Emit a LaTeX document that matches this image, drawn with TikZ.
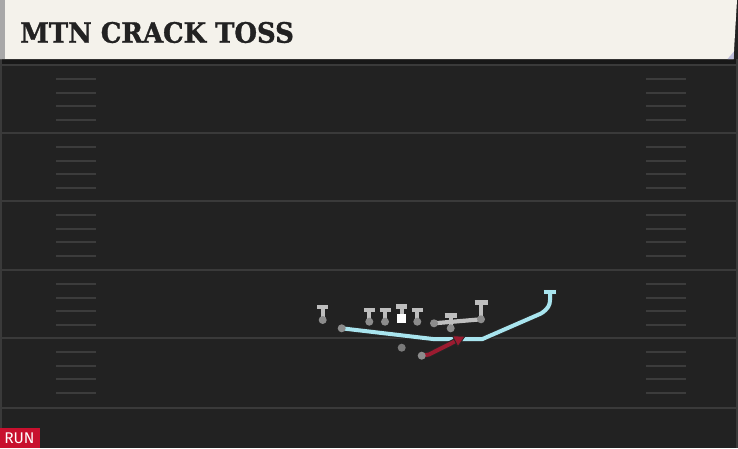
\documentclass[tikz,border=0pt]{standalone}
\usepackage{fontspec}
\usetikzlibrary{arrows.meta,calc}
\newfontfamily\titlefont[FakeBold=1.2]{DejaVu Serif Bold}
\newfontfamily\runfont{Fira Sans}
\definecolor{fieldbg}{HTML}{222222}
\definecolor{fieldline}{HTML}{3A3A3A}
\definecolor{hashc}{HTML}{3C3C3C}
\definecolor{cream}{HTML}{F4F2EB}
\definecolor{stripe}{HTML}{A8A8A8}
\definecolor{titleink}{HTML}{222222}
\definecolor{runred}{HTML}{C8102E}
\definecolor{routered}{HTML}{9B1B30}
\definecolor{routecyan}{HTML}{A9E5EF}
\definecolor{blockgray}{HTML}{BEBEBE}
\definecolor{dotgray}{HTML}{8C8C8C}
\definecolor{qbgray}{HTML}{7A7A7A}
\tikzset{
  fieldrule/.style={draw=fieldline,line width=2pt},
  hashmark/.style={draw=hashc,line width=2pt},
  player/.style={circle,fill=dotgray,inner sep=0pt,minimum size=8pt},
  centerbox/.style={rectangle,fill=white,inner sep=0pt,minimum size=9.4pt},
  stem/.style={draw=blockgray,line width=4.2pt},
  blockbar/.style={draw=blockgray,line width=4.6pt},
  outline/.style={draw=black!85,line width=6pt,line join=round},
  cyanroute/.style={draw=routecyan,line width=4pt,line join=round},
  redroute/.style={draw=routered,line width=4pt,line join=round},
}
\begin{document}
\begin{tikzpicture}[x=1pt,y=-1pt]
\useasboundingbox (0,0) rectangle (738,448);
% field
\fill[fieldbg] (0,0) rectangle (738,448);
\fill[black!30!fieldbg] (0,59) rectangle (738,64);
\fill[fieldline] (0,59) rectangle (2,448);
\fill[fieldline] (736,59) rectangle (738,448);
\foreach \y in {65,133,201,270,338,408} {
  \draw[fieldrule] (0,\y) -- (738,\y);
}
\foreach \y in {65,133,201,270,338} {
  \foreach \o in {14,27.5,41,55} {
    \draw[hashmark] (56,\y+\o) -- (96,\y+\o);
    \draw[hashmark] (646,\y+\o) -- (686,\y+\o);
  }
}
% header
\fill[cream] (0,0) -- (737,0) -- (733.5,59) -- (0,59) -- cycle;
\fill[stripe] (0,0) rectangle (5,59);
\fill[gray!70!blue!40] (727.5,59) -- (734,51.5) -- (733.5,59) -- cycle;
\node[anchor=west,inner sep=0pt,text=titleink,xscale=0.925,font=\titlefont\fontsize{28}{28}\selectfont] (title) at (20,32.5) {MTN CRACK TOSS};
% run label
\fill[runred] (0,428) rectangle (40,448);
\node[anchor=center,inner sep=0pt,text=white,font=\runfont\fontsize{15.5}{15.5}\selectfont] (run) at (19.5,438.5) {RUN};

% ---- positions
\coordinate (t1) at (322.7,320);   \coordinate (t1b) at (322.7,307);
\coordinate (t2) at (369.3,321.7); \coordinate (t2b) at (369.3,310);
\coordinate (t3) at (385,321.7);   \coordinate (t3b) at (385,310);
\coordinate (c)  at (401.7,318.7); \coordinate (cb)  at (401.7,306.3);
\coordinate (t5) at (417.3,321.7); \coordinate (t5b) at (417.3,310);
\coordinate (te) at (434,323.3);
\coordinate (wg) at (481,319.3);   \coordinate (wgb) at (481,302.5);
\coordinate (sm) at (450.7,328.3); \coordinate (smb) at (450.7,315.3);
\coordinate (qb) at (401.7,347.7);
\coordinate (rb) at (421.7,355.7);
\coordinate (s)  at (341.7,328.3);
\coordinate (cy1) at (433,339);
\coordinate (cy2) at (482.5,339);
\coordinate (cy3) at (541,313.5);
\coordinate (cy4) at (550,300);
\coordinate (cyend) at (550,292);
\coordinate (rd1) at (429,354.5);
\coordinate (rdtip) at (465,336.3);
\coordinate (rdbase) at ($(rdtip)!11pt!(rd1)$);
\coordinate (rdl) at ($(rdbase)!6pt!90:(rdtip)$);
\coordinate (rdr) at ($(rdbase)!6pt!-90:(rdtip)$);

% ---- blocks
\foreach \a/\b/\w in {t1/t1b/5.5,t2/t2b/5.5,t3/t3b/5.5,c/cb/5.5,t5/t5b/5.5,wg/wgb/6.5,sm/smb/6} {
  \draw[stem] (\a) -- (\b);
  \draw[blockbar] ([xshift=-\w pt]\b) -- ([xshift=\w pt]\b);
}
\draw[stem,line cap=round] (te) -- (wg);

% ---- cyan route
\draw[outline] (s) -- (cy1) -- (cy2) -- (cy3) .. controls (548,309) and (550,305) .. (cy4) -- (cyend);
\draw[outline] ([xshift=-6.5pt]cyend) -- ([xshift=6.5pt]cyend);
\draw[cyanroute] (s) -- (cy1) -- (cy2) -- (cy3) .. controls (548,309) and (550,305) .. (cy4) -- (cyend);
\draw[draw=routecyan,line width=4pt] ([xshift=-6.3pt]cyend) -- ([xshift=6.3pt]cyend);

% ---- red route
\draw[outline] (rb) -- (rd1) -- (rdbase);
\draw[redroute] (rb) -- (rd1) -- (rdbase);
\filldraw[fill=routered,draw=black!85,line width=0.8pt,line join=round]
  (rdtip) -- (rdl) -- (rdr) -- cycle;

% ---- players
\node[player] (P1) at (t1) {};
\node[player] (P2) at (t2) {};
\node[player] (P3) at (t3) {};
\node[centerbox] (PC) at (c) {};
\node[player] (P5) at (t5) {};
\node[player] (PTE) at (te) {};
\node[player] (PWG) at (wg) {};
\node[player] (PSM) at (sm) {};
\node[player,fill=qbgray] (PQB) at (qb) {};
\node[player] (PRB) at (rb) {};
\node[player] (PS) at (s) {};
\end{tikzpicture}
\end{document}
